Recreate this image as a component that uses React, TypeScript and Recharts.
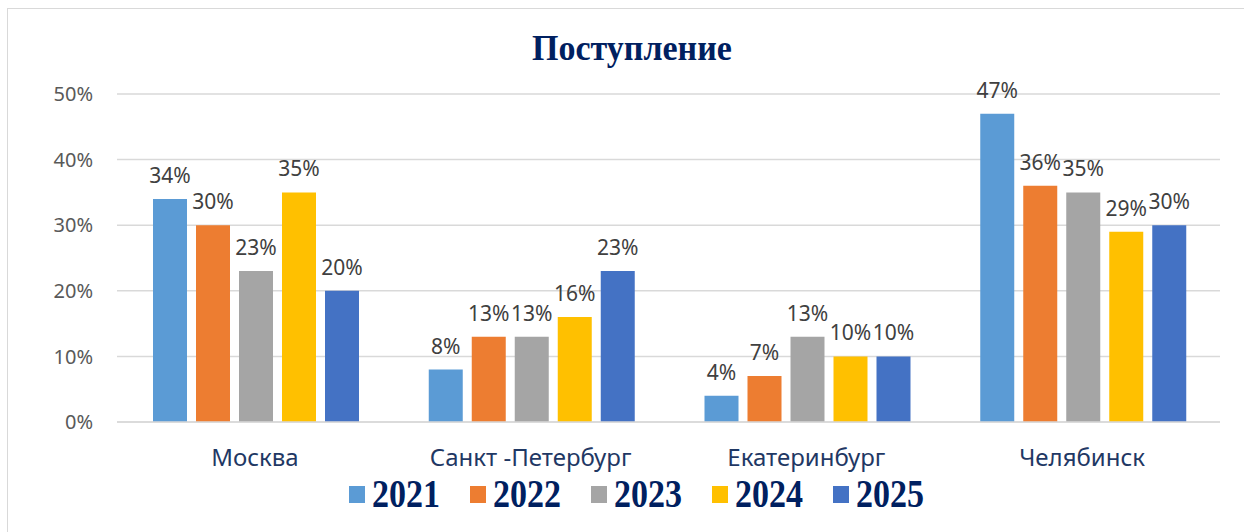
import React from "react";
import {
  BarChart,
  Bar,
  XAxis,
  YAxis,
  CartesianGrid,
  LabelList,
} from "recharts";

const cities = ["Москва", "Санкт -Петербург", "Екатеринбург", "Челябинск"];
const years = ["2021", "2022", "2023", "2024", "2025"];
const colors = ["#5b9bd5", "#ed7d31", "#a5a5a5", "#ffc000", "#4472c4"];

const v2021 = [34, 8, 4, 47];
const v2022 = [30, 13, 7, 36];
const v2023 = [23, 13, 13, 35];
const v2024 = [35, 16, 10, 29];
const v2025 = [20, 23, 10, 30];

const yTicks = [0, 10, 20, 30, 40, 50];

const seriesValues = [v2021, v2022, v2023, v2024, v2025];

const data = cities.map((city, i) => {
  const row: Record<string, string | number> = { city };
  years.forEach((y, k) => {
    row[y] = seriesValues[k][i];
  });
  return row;
});

const SANS = "'Noto Sans', 'Open Sans', sans-serif";
const SERIF = "'Liberation Serif', 'Times New Roman', serif";

export default function App() {
  return (
    <div
      style={{
        position: "absolute",
        left: 0,
        top: 0,
        width: 1244,
        height: 532,
        overflow: "hidden",
        background: "#fff",
      }}
    >
      {/* frame of the chart area, runs off the right/bottom edge */}
      <div
        style={{
          position: "absolute",
          left: 7,
          top: 8,
          width: 1300,
          height: 600,
          border: "1px solid #d9d9d9",
        }}
      />
      <div
        style={{
          position: "absolute",
          left: 0,
          width: 1264,
          top: 28,
          textAlign: "center",
          fontFamily: SERIF,
          fontWeight: "bold",
          fontSize: 34,
          lineHeight: "40px",
          color: "#002060",
          transform: "scaleY(1.08)",
        }}
      >
        Поступление
      </div>

      <div style={{ position: "absolute", left: 0, top: 0 }}>
        <BarChart
          width={1244}
          height={532}
          data={data}
          margin={{ top: 94, right: 24, bottom: 50, left: 7 }}
          barCategoryGap={36}
          barGap={9}
        >
          <CartesianGrid vertical={false} stroke="#d9d9d9" strokeWidth={1.5} />
          <XAxis
            dataKey="city"
            height={60}
            axisLine={{ stroke: "#d9d9d9", strokeWidth: 1.5 }}
            tickLine={false}
            tickMargin={21}
            tick={{ fontSize: 24, fill: "#1f3864", fontFamily: SANS }}
          />
          <YAxis
            width={110}
            domain={[0, 50]}
            ticks={yTicks}
            axisLine={false}
            tickLine={false}
            tickMargin={18}
            tickFormatter={(v: number) => `${v}%`}
            tick={{ fontSize: 20, fill: "#595959", fontFamily: SANS }}
          />
          {years.map((y, k) => (
            <Bar key={y} dataKey={y} fill={colors[k]} isAnimationActive={false}>
              <LabelList
                dataKey={y}
                position="top"
                offset={16}
                formatter={(v: any) => `${v}%`}
                style={{ fontSize: 21, fill: "#404040", fontFamily: SANS }}
              />
            </Bar>
          ))}
        </BarChart>
      </div>

      <div
        style={{
          position: "absolute",
          left: 349,
          top: 474,
          display: "flex",
          alignItems: "center",
          fontFamily: SERIF,
          fontWeight: "bold",
          fontSize: 34,
          lineHeight: "40px",
          color: "#002060",
        }}
      >
        {years.map((y, k) => (
          <div
            key={y}
            style={{ display: "flex", alignItems: "center", width: 121 }}
          >
            <span
              style={{
                display: "inline-block",
                width: 16,
                height: 17,
                background: colors[k],
                marginRight: 7,
              }}
            />
            <span style={{ display: "inline-block", transform: "scaleY(1.15)" }}>
              {y}
            </span>
          </div>
        ))}
      </div>
    </div>
  );
}
